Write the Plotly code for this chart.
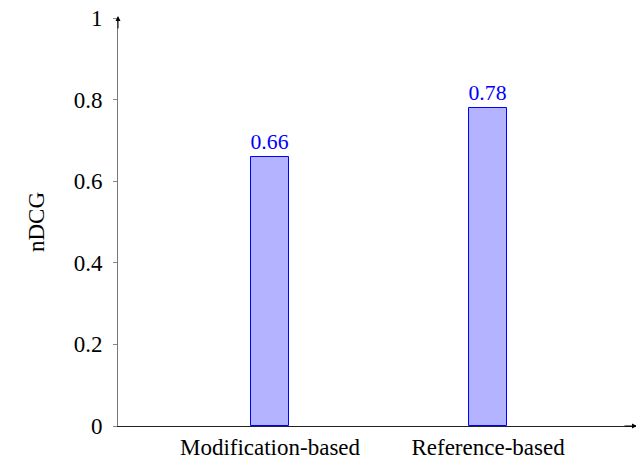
import plotly.graph_objects as go

categories = ["Modification-based", "Reference-based"]
ndcg = [0.66, 0.78]
bar_labels = ["0.66", "0.78"]
y_ticks = [0, 0.2, 0.4, 0.6, 0.8, 1]
y_tick_labels = ["0", "0.2", "0.4", "0.6", "0.8", "1"]

x_pos = list(range(len(categories)))
FONT = "Liberation Serif, Times New Roman, serif"
FS = 23
X_RANGE = [-0.697, 1.683]

fig = go.Figure()
fig.add_trace(go.Bar(
    x=x_pos, y=ndcg, width=0.178,
    marker=dict(color="#b3b3ff", line=dict(color="#0000ff", width=1)),
    text=bar_labels, textposition="outside", cliponaxis=False,
    textfont=dict(family=FONT, size=FS, color="#0000ff"),
    showlegend=False,
))

# page body has an 8px margin, so the figure is sized to fit the window
fig.update_layout(
    width=636, height=453,
    margin=dict(l=110, r=7, t=10, b=35, autoexpand=False),
    paper_bgcolor="white", plot_bgcolor="white",
    font=dict(family=FONT, size=FS, color="black"),
    bargap=0,
    xaxis=dict(
        range=X_RANGE, tickvals=x_pos, ticktext=categories,
        showgrid=False, zeroline=False, showline=True, linecolor="#222", linewidth=1,
        ticks="", automargin=False, ticklabelstandoff=0,
        tickfont=dict(family=FONT, size=FS, color="black"),
    ),
    # second axis only for the small tick marks below the x axis
    xaxis2=dict(
        overlaying="x", anchor="y", side="bottom", range=X_RANGE, tickvals=x_pos,
        showticklabels=False, ticks="outside", ticklen=4, tickcolor="#888",
        showgrid=False, zeroline=False, showline=False, automargin=False,
    ),
    yaxis=dict(
        range=[0, 1], tickvals=y_ticks, ticktext=y_tick_labels,
        showgrid=False, zeroline=False, showline=True, linecolor="#777", linewidth=1,
        ticks="outside", ticklen=4, tickcolor="#888", ticklabelstandoff=6,
        automargin=False, ticklabeloverflow="allow",
        tickfont=dict(family=FONT, size=FS, color="black"),
        title=dict(text="nDCG", font=dict(family=FONT, size=FS, color="black"), standoff=22),
    ),
)

# axis arrowheads
fig.add_annotation(x=1, y=0, xref="paper", yref="paper", ax=-14, ay=0,
                   axref="pixel", ayref="pixel", showarrow=True, arrowhead=2,
                   arrowsize=1, arrowwidth=1, arrowcolor="black", text="")
fig.add_annotation(x=0, y=1.005, xref="paper", yref="paper", ax=0, ay=14,
                   axref="pixel", ayref="pixel", showarrow=True, arrowhead=2,
                   arrowsize=1, arrowwidth=1, arrowcolor="black", text="")

fig.write_html("out.html")
